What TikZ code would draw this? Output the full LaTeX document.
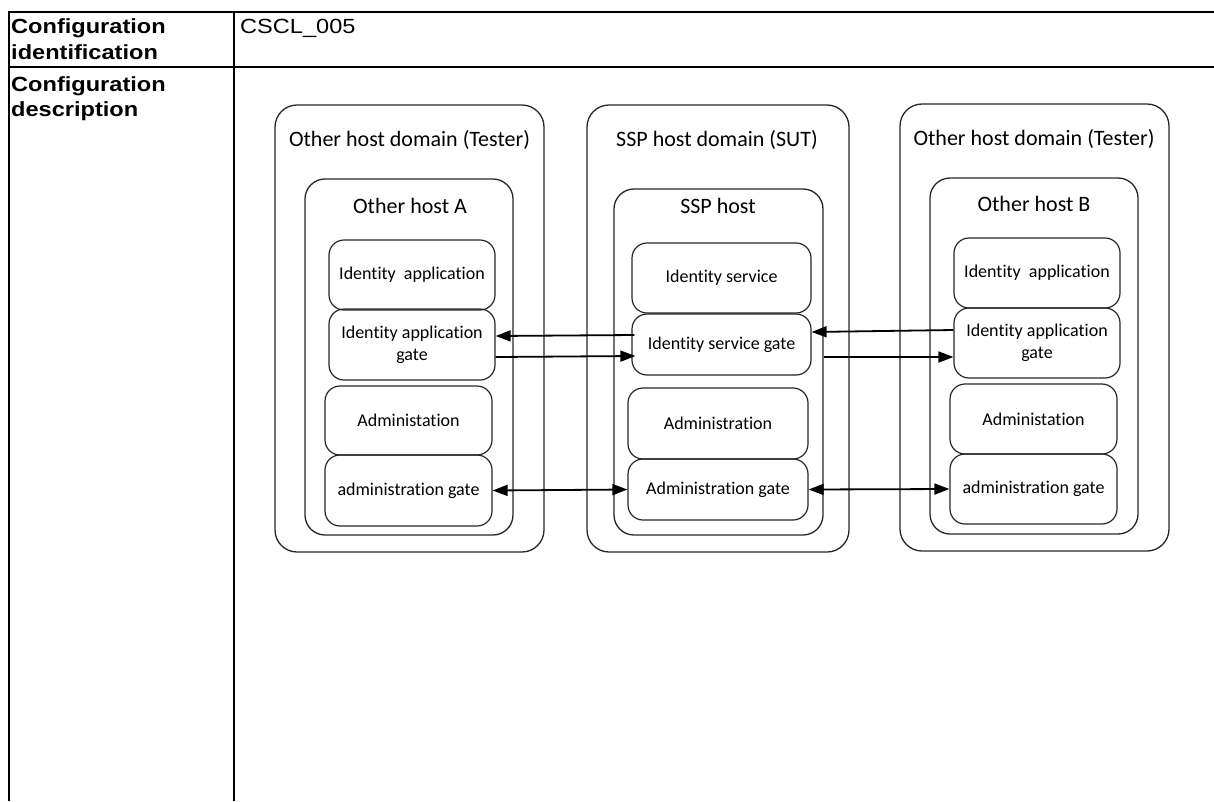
\documentclass[tikz,border=0pt]{standalone}
\usepackage{fontspec}
\setmainfont[Ligatures=NoCommon]{Carlito}
\newfontfamily\tabfont[FakeStretch=1.15,Ligatures=NoCommon]{Liberation Sans}
\usetikzlibrary{arrows.meta,calc}
\begin{document}
\begin{tikzpicture}[x=1pt,y=-1pt,
  tabline/.style={line width=1.9pt},
  tabtxt/.style={inner sep=0pt, anchor=base west, font=\tabfont\fontsize{20.5}{26}\selectfont},
  domainbox/.style={draw=black!85, line width=1.3pt, rounded corners=22pt, inner sep=0pt},
  hostbox/.style={draw=black!85, line width=1.3pt, rounded corners=20pt, inner sep=0pt},
  comp/.style={draw=black!85, line width=1.2pt, rounded corners=15pt, inner sep=0pt, align=center, font=\fontsize{18}{22}\selectfont},
  titletxt/.style={inner sep=0pt, font=\fontsize{22}{25}\selectfont},
  arr/.style={line width=1.8pt, -{Triangle[length=15pt,width=11pt]}},
  darr/.style={line width=1.8pt, {Triangle[length=15pt,width=11pt]}-{Triangle[length=15pt,width=11pt]}}
]
\useasboundingbox (0,0) rectangle (1214,801);

% table
\coordinate (tl) at (8,12);
\coordinate (tr) at (1214,12);
\coordinate (ml) at (8,67);
\coordinate (mr) at (1214,67);
\coordinate (v1t) at (9,11);
\coordinate (v1b) at (9,801);
\coordinate (v2t) at (234,11);
\coordinate (v2b) at (234,801);
\draw[tabline] (tl) -- (tr);
\draw[tabline] (ml) -- (mr);
\draw[tabline] (v1t) -- (v1b);
\draw[tabline] (v2t) -- (v2b);

\node[tabtxt] (r1a) at (11,33.5) {\bfseries Configuration};
\node[tabtxt] (r1b) at (11,59) {\bfseries identification};
\node[tabtxt] (r2a) at (11,91) {\bfseries Configuration};
\node[tabtxt] (r2b) at (11,116.5) {\bfseries description};
\node[tabtxt] (id) at (240,33.5) {CSCL\_005};

% left domain
\node[domainbox, minimum width=269pt, minimum height=447pt] (LD) at (409.5,328.5) {};
\node[titletxt] (LDt) at (409.5,140) {Other host domain (Tester)};
\node[hostbox, minimum width=208pt, minimum height=356pt] (HA) at (409,357) {};
\node[titletxt] (HAt) at (410,206) {Other host A};
\node[comp, minimum width=166pt, minimum height=70pt] (LA1) at (412,275) {Identity\ \ application};
\node[comp, minimum width=166pt, minimum height=71pt] (LA2) at (412,344.5) {Identity application\\gate};
\node[comp, minimum width=167pt, minimum height=69pt] (LA3) at (408.5,420.5) {Administation};
\node[comp, minimum width=167pt, minimum height=71pt] (LA4) at (408.5,490.5) {administration gate};

% middle domain
\node[domainbox, minimum width=262pt, minimum height=447pt] (MD) at (718,328.5) {};
\node[titletxt] (MDt) at (717,140) {SSP host domain (SUT)};
\node[hostbox, minimum width=209pt, minimum height=346pt] (SH) at (718.5,362) {};
\node[titletxt] (SHt) at (718,206) {SSP host};
\node[comp, minimum width=179pt, minimum height=70pt] (M1) at (721.5,278) {Identity service};
\node[comp, minimum width=179pt, minimum height=61pt] (M2) at (721.5,344.5) {Identity service gate};
\node[comp, minimum width=180pt, minimum height=71pt] (M3) at (718,423.5) {Administration};
\node[comp, minimum width=180pt, minimum height=61pt] (M4) at (718,489.5) {Administration gate};

% right domain
\node[domainbox, minimum width=269pt, minimum height=447pt] (RD) at (1034.5,327.5) {};
\node[titletxt] (RDt) at (1034,139) {Other host domain (Tester)};
\node[hostbox, minimum width=208pt, minimum height=356pt] (HB) at (1034,356) {};
\node[titletxt] (HBt) at (1034,204) {Other host B};
\node[comp, minimum width=166pt, minimum height=70pt] (R1) at (1037,273) {Identity\ \ application};
\node[comp, minimum width=166pt, minimum height=70pt] (R2) at (1037,343) {Identity application\\gate};
\node[comp, minimum width=167pt, minimum height=70pt] (R3) at (1033.5,419) {Administation};
\node[comp, minimum width=167pt, minimum height=70pt] (R4) at (1033.5,489) {administration gate};

% connectors
\draw[arr] ($(M2.west)+(3,-9.5)$) -- ($(LA2.east)+(0,-8.5)$);
\draw[arr] ($(LA2.east)+(0,12.5)$) -- ($(M2.west)+(4,11.5)$);
\draw[arr] ($(R2.west)+(0,-13)$) -- ($(M2.east)+(0,-12.5)$);
\draw[arr] ($(SH.east)+(0,-5)$) -- ($(R2.west)+(0,14)$);
\draw[darr] (LA4.east) -- (M4.west);
\draw[darr] (M4.east) -- (R4.west);
\end{tikzpicture}
\end{document}
